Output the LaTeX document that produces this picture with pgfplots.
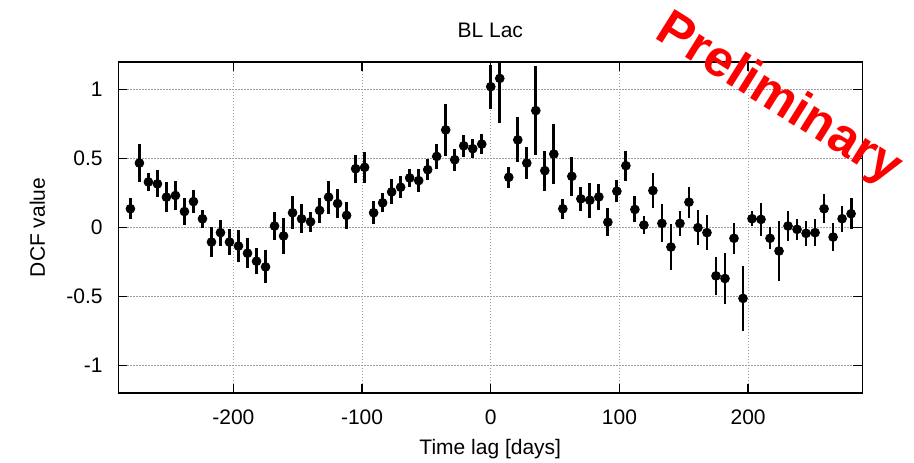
\documentclass[border=0pt]{standalone}
\usepackage{fontspec}
\setmainfont{Liberation Sans}
\usepackage{pgfplots}
\usepackage{pgfplotstable}
\pgfplotsset{compat=1.18}
\pgfplotstableread{
x y e
-280 0.135 0.075
-273 0.466 0.136
-266 0.329 0.066
-259 0.315 0.098
-252 0.219 0.108
-245 0.231 0.108
-238 0.115 0.095
-231 0.187 0.084
-224 0.062 0.067
-217 -0.106 0.108
-210 -0.038 0.094
-203 -0.106 0.096
-196 -0.135 0.117
-189 -0.187 0.110
-182 -0.245 0.096
-175 -0.286 0.120
-168 0.010 0.100
-161 -0.062 0.128
-154 0.106 0.118
-147 0.062 0.105
-140 0.041 0.072
-133 0.123 0.090
-126 0.219 0.120
-119 0.173 0.102
-112 0.087 0.096
-105 0.425 0.102
-98 0.435 0.110
-91 0.106 0.084
-84 0.178 0.068
-77 0.257 0.090
-70 0.291 0.078
-63 0.358 0.068
-56 0.339 0.082
-49 0.418 0.078
-42 0.514 0.088
-35 0.706 0.187
-28 0.490 0.080
-21 0.591 0.078
-14 0.570 0.070
-7 0.603 0.073
0 1.019 0.160
7 1.079 0.320
14 0.363 0.078
21 0.634 0.162
28 0.466 0.118
35 0.846 0.324
42 0.411 0.144
49 0.531 0.216
56 0.135 0.072
63 0.370 0.139
70 0.207 0.088
77 0.197 0.128
84 0.221 0.092
91 0.038 0.099
98 0.262 0.081
105 0.447 0.109
112 0.130 0.094
119 0.017 0.068
126 0.267 0.124
133 0.029 0.138
140 -0.142 0.165
147 0.029 0.090
154 0.183 0.112
161 -0.002 0.126
168 -0.038 0.126
175 -0.351 0.138
182 -0.370 0.184
189 -0.079 0.114
196 -0.514 0.238
203 0.063 0.053
210 0.058 0.118
217 -0.079 0.080
224 -0.171 0.219
231 0.010 0.107
238 -0.014 0.078
245 -0.043 0.091
252 -0.038 0.096
259 0.135 0.105
266 -0.070 0.100
273 0.063 0.094
280 0.099 0.113
}\dcf
\begin{document}
\fontsize{10.5}{12.6}\selectfont
\begin{tikzpicture}
\begin{axis}[
  name=ax,
  at={(0,0)}, anchor=south west,
  scale only axis, width=372pt, height=165.7pt,
  xmin=-289.4, xmax=288.7, ymin=-1.2, ymax=1.2,
  xtick={-200,-100,0,100,200}, xticklabels={-200,-100,0,100,200},
  ytick={-1,-0.5,0,0.5,1}, yticklabels={-1,-0.5,0,0.5,1},
  tick align=inside, major tick length=4.5pt,
  tick style={black, line width=0.7pt},
  grid=major, grid style={gray!75, dash pattern=on 0.6pt off 0.9pt, line width=0.5pt},
  axis line style={black, line width=0.8pt},
  xticklabel style={inner sep=0pt, anchor=base, yshift=-15.65pt},
  yticklabel style={inner sep=0pt, anchor=east, xshift=-7.65pt},
  tick label style={font=\fontsize{10.5}{12.6}\selectfont},
]
\addplot[only marks, mark=*, black, mark size=2.2pt,
  error bars/.cd, y dir=both, y explicit, error mark=none,
  error bar style={line width=1.4pt, black}]
  table[x=x, y=y, y error=e] {\dcf};
\end{axis}
\node[anchor=base, yshift=12.35pt] at (ax.north) {BL Lac};
\node[anchor=base, yshift=-30.5pt] at (ax.south) {Time lag [days]};
\path (ax.west) ++(-40.5pt,0) node[rotate=90, anchor=center] {DCF value};
\path (ax.south west) ++(330pt,146.5pt) node[red, rotate=-32, font=\fontsize{25.5}{30}\selectfont\bfseries, anchor=center] {Preliminary};
\pgfresetboundingbox
\path[use as bounding box] (ax.south west) ++(-59.15pt,-34.5pt) rectangle ++(457pt,231.05pt);
\end{tikzpicture}
\end{document}
